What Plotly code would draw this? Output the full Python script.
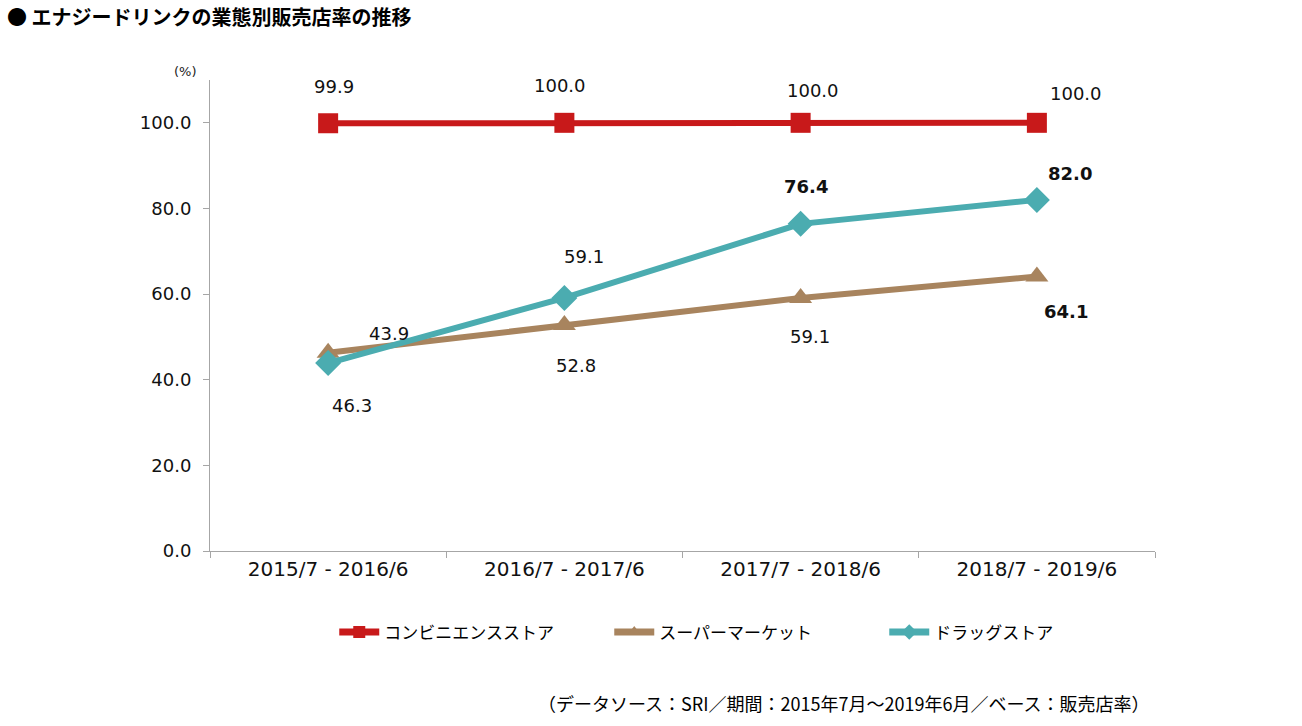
import plotly.graph_objects as go

categories = ["2015/7 - 2016/6", "2016/7 - 2017/6", "2017/7 - 2018/6", "2018/7 - 2019/6"]
conv = [99.9, 100.0, 100.0, 100.0]
superm = [46.3, 52.8, 59.1, 64.1]
drug = [43.9, 59.1, 76.4, 82.0]
names = ["コンビニエンスストア", "スーパーマーケット", "ドラッグストア"]
y_ticks = [0, 20, 40, 60, 80, 100]

RED = "#C8191A"
BROWN = "#A8845E"
TEAL = "#4BACB0"
NUM_FONT = "DejaVu Sans"
JP_FONT = "Noto Sans CJK JP"

series = [(conv, names[0], RED, "square"),
          (superm, names[1], BROWN, "triangle-up"),
          (drug, names[2], TEAL, "diamond")]

fig = go.Figure()
for vals, nm, col, sym in series:
    fig.add_trace(go.Scatter(x=categories, y=vals, name=nm, mode="lines+markers",
                             showlegend=False,
                             line=dict(color=col, width=6),
                             marker=dict(symbol=sym, size=20, color=col)))
# legend-only entries with smaller symbols
for vals, nm, col, sym in series:
    fig.add_trace(go.Scatter(x=[None], y=[None], name=nm, mode="lines+markers",
                             line=dict(color=col, width=7),
                             marker=dict(symbol=sym, size=12, color=col)))

# label offsets (pixels)
conv_off = [(6, 37), (-4, 37), (12, 32), (39, 29)]
sup_off = [(24, -53), (12, -41), (9, -39), (29, -35)]
drug_off = [(61, 30), (20, 41), (5, 37), (33, 26)]
sup_bold = [False, False, False, True]
drug_bold = [False, False, True, True]

def add_labels(vals, offs, bolds):
    for c, v, (dx, dy), b in zip(categories, vals, offs, bolds):
        t = f"{v:.1f}"
        if b:
            t = f"<b>{t}</b>"
        fig.add_annotation(x=c, y=v, text=t, showarrow=False, xshift=dx, yshift=dy,
                           font=dict(family=NUM_FONT, size=18, color="#111111"))

add_labels(conv, conv_off, [False] * 4)
add_labels(superm, sup_off, sup_bold)
add_labels(drug, drug_off, drug_bold)

fig.add_annotation(xref="paper", yref="paper", x=-0.04, y=1.0, yshift=18,
                   text="(%)", showarrow=False,
                   font=dict(family=NUM_FONT, size=13, color="#222222"))

fig.add_annotation(xref="paper", yref="paper", x=-205 / 945, y=1, yshift=64,
                   xanchor="left", yanchor="middle",
                   text="<b>● エナジードリンクの業態別販売店率の推移</b>", showarrow=False,
                   font=dict(family=JP_FONT, size=20, color="#000000"))

fig.add_annotation(xref="paper", yref="paper", x=(1152 - 210) / 945, y=0, yshift=-152,
                   xanchor="right", yanchor="middle",
                   text="（データソース：SRI／期間：2015年7月～2019年6月／ベース：販売店率）",
                   showarrow=False,
                   font=dict(family=JP_FONT, size=18, color="#000000"))

fig.update_layout(
    width=1302, height=726,
    margin=dict(l=210, r=147, t=80, b=175),
    paper_bgcolor="white", plot_bgcolor="white",
    showlegend=True,
    legend=dict(orientation="h", x=0.568, xanchor="center", y=-0.173, yanchor="middle",
                font=dict(family=JP_FONT, size=17, color="#000000"),
                entrywidth=220, itemwidth=40),
    xaxis=dict(type="category", showline=True, linecolor="#A6A6A6", linewidth=1,
               ticks="outside", tickson="boundaries", ticklen=6, tickcolor="#A6A6A6",
               showgrid=False, tickfont=dict(family=NUM_FONT, size=20, color="#111111"),
               range=[-0.5, 3.5]),
    yaxis=dict(range=[0, 110], tickvals=y_ticks, ticktext=[f"{v:.1f}" for v in y_ticks],
               showline=True, linecolor="#A6A6A6", linewidth=1,
               ticks="outside", ticklen=6, tickcolor="#A6A6A6", showgrid=False,
               zeroline=False, ticklabelstandoff=8,
               tickfont=dict(family=NUM_FONT, size=18, color="#111111")),
)

fig.write_html("out.html")
